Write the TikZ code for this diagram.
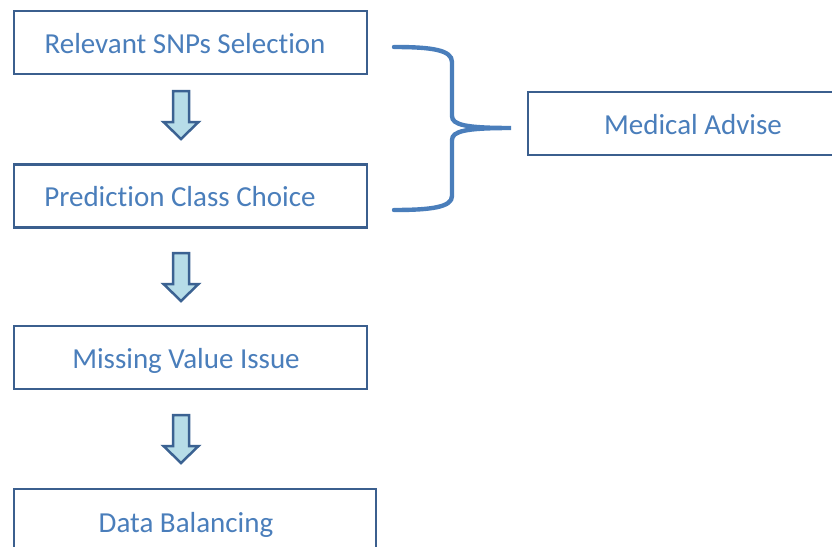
\documentclass[tikz,border=0pt]{standalone}
\usepackage{fontspec}
\setmainfont[RawFeature={-liga}]{Carlito}
\usetikzlibrary{calc}
\definecolor{boxline}{HTML}{3B5F8E}
\definecolor{labeltext}{HTML}{4A7EBB}
\definecolor{bracecol}{HTML}{4A7EBB}
\definecolor{arrowfill}{HTML}{B7DDE8}
\definecolor{arrowline}{HTML}{3B6292}
\begin{document}
\begin{tikzpicture}[x=1pt,y=-1pt,
  box/.style={draw=boxline,line width=2.8pt,fill=white,inner sep=0pt},
  label/.style={text=labeltext,font=\fontsize{29}{34}\selectfont,anchor=base,inner sep=0pt},
  pics/downarrow/.style={code={
    \draw[draw=arrowline,fill=arrowfill,line width=2.5pt,line join=miter]
      (-8,-24) -- (8,-24) -- (8,7) -- (17.5,7) -- (0,24) -- (-17.5,7) -- (-8,7) -- cycle;}},
  bracestyle/.style={draw=bracecol,line width=4.4pt,line cap=round}]
\useasboundingbox (0,0) rectangle (832,546);
\clip (0,0) rectangle (832,546);

% process boxes
\node[box,minimum width=353pt,minimum height=63pt] (b1) at (190.5,42.5) {};
\node[box,minimum width=353pt,minimum height=63pt] (b2) at (190.5,196) {};
\node[box,minimum width=353pt,minimum height=63pt] (b3) at (190.5,357.5) {};
\node[box,minimum width=362pt,minimum height=63pt] (b4) at (195,520.5) {};
\node[box,minimum width=312pt,minimum height=63pt] (med) at (684,123.5) {};

% box texts
\node[label] (t1) at (185,53) {Relevant SNPs Selection};
\node[label] (t2) at (180,206) {Prediction Class Choice};
\node[label] (t3) at (186,368) {Missing Value Issue};
\node[label] (t4) at (186,532) {Data Balancing};
\node[label] (t5) at (693,134) {Medical Advise};

% block arrows between the steps
\coordinate (a1) at (181,115);
\coordinate (a2) at (181,277);
\coordinate (a3) at (181,439);
\pic at (a1) {downarrow};
\pic at (a2) {downarrow};
\pic at (a3) {downarrow};

% curly brace grouping the first two steps
\coordinate (bt) at (394,47);
\coordinate (bb) at (394,210);
\coordinate (tip) at (511,128);
\draw[bracestyle]
  (bt) .. controls (432,47) and (452,50) .. (452,62)
  -- (452,116) .. controls (452,125) and (466,128) .. (tip)
  .. controls (466,128) and (452,131) .. (452,140)
  -- (452,196) .. controls (452,207) and (432,210) .. (bb);
\end{tikzpicture}
\end{document}
